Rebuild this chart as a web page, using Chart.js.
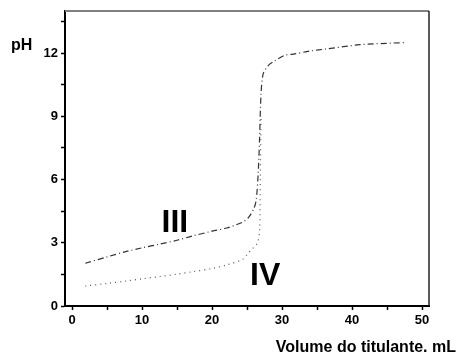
<!doctype html>
<html>
<head>
<meta charset="utf-8">
<title>pH titration curves</title>
<script src="https://cdn.jsdelivr.net/npm/chart.js@4.4.0/dist/chart.umd.min.js"></script>
<style>
html, body { margin:0; padding:0; background:#fff; }
#wrap { width:457px; height:353px; }
</style>
</head>
<body>
<div id="wrap"><canvas id="myChart" width="457" height="353"></canvas></div>
<script>
// curve III (dash-dot)
var volIII = [1.9, 5, 7.8, 10, 12.6, 15, 17.3, 20, 22.1, 23.5, 24.5, 25.2, 25.9, 26.3, 26.6, 26.8, 27.0, 27.3, 28.0, 28.8, 30.4, 31.6, 34, 36.4, 41.1, 45.9, 47.8];
var phIII  = [2.03, 2.33, 2.59, 2.76, 2.94, 3.12, 3.33, 3.55, 3.70, 3.86, 4.0, 4.19, 4.57, 5.0, 6.3, 8.0, 10.0, 11.0, 11.4, 11.6, 11.9, 11.95, 12.1, 12.2, 12.4, 12.48, 12.5];
// curve IV (dotted)
var volIV = [1.9, 5, 7.8, 10, 12.6, 15, 17.3, 20, 22.1, 24.4, 25.1, 25.9, 26.5, 26.8, 26.9, 27.0];
var phIV  = [0.95, 1.07, 1.19, 1.29, 1.40, 1.51, 1.63, 1.78, 1.95, 2.22, 2.48, 2.76, 3.0, 3.6, 6.0, 9.0];

var xTicks = [0, 10, 20, 30, 40, 50];
var yTicks = [0, 3, 6, 9, 12];

function pts(xs, ys) {
  return xs.map(function (v, i) { return { x: v, y: ys[i] }; });
}

var boldFont = 'Arial, "Liberation Sans", sans-serif';

// frame (top + right), free text labels
var extras = {
  id: 'extras',
  afterDraw: function (chart) {
    var c = chart.ctx, a = chart.chartArea;
    var xs = chart.scales.x, ys = chart.scales.y;
    c.save();
    c.strokeStyle = '#808080';
    c.lineWidth = 2;
    c.beginPath(); c.moveTo(a.left, a.top); c.lineTo(a.right, a.top); c.stroke();
    c.strokeStyle = '#222';
    c.lineWidth = 1.5;
    c.beginPath(); c.moveTo(a.right, a.top); c.lineTo(a.right, a.bottom); c.stroke();

    c.fillStyle = '#000';
    c.font = 'bold 32px ' + boldFont;
    c.textAlign = 'center'; c.textBaseline = 'middle';
    c.fillText('III', xs.getPixelForValue(14.7), ys.getPixelForValue(3.95));
    c.fillText('IV', xs.getPixelForValue(27.6), ys.getPixelForValue(1.4));

    c.font = 'bold 16px ' + boldFont;
    c.textAlign = 'left'; c.textBaseline = 'alphabetic';
    c.fillText('pH', 11, 50);
    c.textAlign = 'right';
    c.fillText('Volume do titulante. mL', 456, 352);
    c.restore();
  }
};

var ctx = document.getElementById('myChart').getContext('2d');
var chart = new Chart(ctx, {
  type: 'scatter',
  data: {
    datasets: [{
      label: 'III',
      data: pts(volIII, phIII),
      showLine: true,
      tension: 0.3,
      borderColor: '#333',
      borderWidth: 1.2,
      borderDash: [6, 3, 1, 3],
      pointRadius: 0
    }, {
      label: 'IV',
      data: pts(volIV, phIV),
      showLine: true,
      tension: 0.3,
      borderColor: '#555',
      borderWidth: 1.2,
      borderDash: [1, 4],
      pointRadius: 0
    }]
  },
  options: {
    responsive: false,
    animation: false,
    layout: { padding: { top: 11, right: 28, left: 0, bottom: 0 } },
    plugins: { legend: { display: false }, tooltip: { enabled: false } },
    scales: {
      x: {
        type: 'linear', min: -1, max: 51,
        afterFit: function (s) { s.height = 47; },
        afterBuildTicks: function (s) {
          var t = [];
          for (var v = 0; v <= 50; v += 5) t.push({ value: v });
          s.ticks = t;
        },
        ticks: {
          autoSkip: false, maxRotation: 0, padding: 3, color: '#000',
          font: { family: boldFont, size: 13, weight: 'bold' },
          callback: function (v) { return xTicks.indexOf(v) >= 0 ? String(v) : ''; }
        },
        grid: { drawOnChartArea: false, drawTicks: true, tickLength: 4, tickColor: '#000', tickWidth: 1.5 },
        border: { color: '#000', width: 2 }
      },
      y: {
        type: 'linear', min: 0, max: 14,
        afterFit: function (s) { s.width = 65; },
        afterBuildTicks: function (s) {
          var t = [];
          for (var v = 0; v <= 13.5; v += 1.5) t.push({ value: v });
          s.ticks = t;
        },
        ticks: {
          autoSkip: false, padding: 3, color: '#000',
          font: { family: boldFont, size: 13, weight: 'bold' },
          callback: function (v) { return yTicks.indexOf(v) >= 0 ? String(v) : ''; }
        },
        grid: { drawOnChartArea: false, drawTicks: true, tickLength: 4, tickColor: '#000', tickWidth: 1.5 },
        border: { color: '#000', width: 2 }
      }
    }
  },
  plugins: [extras]
});
</script>
</body>
</html>
